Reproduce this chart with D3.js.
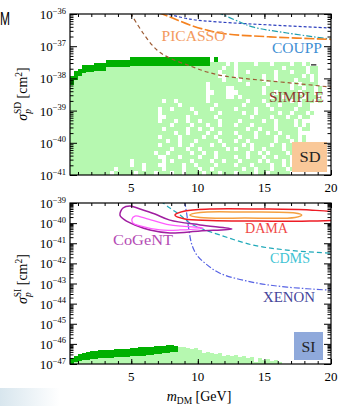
<!DOCTYPE html>
<html>
<head>
<meta charset="utf-8">
<script src="https://cdn.jsdelivr.net/npm/d3@7"></script>
<style>
body { margin: 0; background: #fff; }
svg text { font-family: "Liberation Serif", "DejaVu Serif", serif; }
</style>
</head>
<body>
<div id="chart"></div>
<script>
// scan grid (GeV)
const cellStart = 0.4;
const cellWidth = 0.3;

// SD panel, dark green band: segments in GeV, edges in log10(sigma/cm^2)
const sdDarkFrom = [0.4, 0.7, 1.0, 1.3, 1.6, 2.2, 3.1, 4.9, 11.2];
const sdDarkTo   = [0.7, 1.0, 1.3, 1.6, 2.2, 3.1, 4.9, 10.9, 11.5];
const sdDarkTop  = [-37.93, -37.77, -37.71, -37.58, -37.58, -37.52, -37.43, -37.34, -37.34];
const sdDarkBot  = [-38.22, -38.05, -37.93, -37.83, -37.80, -37.77, -37.65, -37.62, -37.50];

// SD panel, light green scan points: rows of 1/8 decade starting at 10^-37.5, one char per cell
const sdRowTop = -37.5;
const sdRowStep = 0.125;
const sdRows = [
  "####################" + "###################." + "#.####.###.####.##.#.....",
  "####################" + "##################.#" + "#.###########.#####.##...",
  "####################" + "#################.##" + "#.##.######.###.###.##...",
  "####################" + "#################..#" + "#.######.##.######.#.#...",
  "####################" + "##################.#" + "##.#####.##.####.###.#...",
  "####################" + "##############.#####" + "####.####.#####.#.####...",
  "####################" + "##############.####." + ".#######.######.##.##.#..",
  "####################" + "##############..###." + "..######.##.#####.###.#..",
  "####################" + "##############.####." + ".#.#######.##.####.###...",
  "####################" + "###.##.#######.#####" + "####.###.######.#.###.#..",
  "####################" + "#######.########.###" + "###.#####.##.####.##.....",
  "####################" + "##.##.####.####.####" + "#.####.###.#####.###.....",
  "####################" + "##.########.#####.##" + "###.##.#####.##.###.#....",
  "####################" + "##..#####.######.###" + "#####.####.###.##.##.....",
  "####################" + "##.###.##.##.####.##" + "##.#####.##.####.#.......",
  "####################" + "#####.####.###.##.##" + "#.###.#####.####.#.#.....",
  "####################" + "###.#####.##.##.####" + "####.##.###.#####.##.....",
  "####################" + "######.##.####.##.##" + "#.####.##.##.####........",
  "####################" + "##.####.#####.##.###" + "##.###.####.##.##.#......",
  "####################" + "####.##.###.#####.##" + "#.##.######.###.#.#......",
  "####################" + "##.####.##.####.##.#" + "###.#.####.##.##.#.......",
  "####################" + "#####.###.##.######." + "#.###.##.####.##.........",
  "####################" + "#.##.#####.##.##.###" + "####.##.#.####.#.........",
  "####################" + "##..###.####.###.###" + "#.##.###.##.###..........",
  "###############.####" + "###.#.####.####.##.#" + "##.####.#.###.#..........",
  "###############.##.#" + "##..####.##.####.###" + "#.###.####.##.#..........",
  "###########.######.#" + "###.####.###.##.####" + "###.##.###.###.#.........",
  "##########.#####.###" + "#.###.##.####.###.##" + "#.####.##.#####.........."
];

// SI panel, per scan column: top of dark band and top of light band (light runs to 10^-47)
const siDarkTop = [-46.71, -46.61, -46.51, -46.46, -46.41, -46.36, -46.36, -46.31, -46.31, -46.31,
  -46.28, -46.26, -46.26, -46.23, -46.23, -46.21, -46.21, -46.18, -46.18, -46.16,
  -46.16, -46.13, -46.11, -46.11, -46.06, -46.06, -46.11];
const siLightTop = [-47.0, -46.91, -46.86, -46.81, -46.81, -46.76, -46.76, -46.71, -46.71, -46.71,
  -46.69, -46.66, -46.66, -46.66, -46.63, -46.61, -46.61, -46.58, -46.58, -46.56,
  -46.56, -46.51, -46.51, -46.46, -46.46, -46.41, -46.41,
  -46.16, -46.16, -46.21, -46.26, -46.21, -46.31, -46.46, -46.41, -46.46, -46.51,
  -46.46, -46.61, -46.56, -46.61, -46.56, -46.66, -46.61, -46.71, -46.66, -46.91,
  -46.71, -46.81, -46.76, -46.86, -46.81, -46.91];

// SD limits
const picassoX = [7.0, 7.9, 9.4, 11.66, 15.4, 20.2];
const picassoY = [-35.95, -36.09, -36.34, -36.59, -36.71, -36.79];
const navyX = [7.5, 9.4, 11.66, 15.4, 20.2];
const navyY = [-35.97, -36.16, -36.25, -36.34, -36.44];
const couppX = [11.5, 13.16, 14.1, 16.7, 20.2];
const couppY = [-35.95, -36.25, -36.4, -36.59, -36.79];
const simpleX = [4.95, 5.88, 6.93, 7.9, 9.4, 10.69, 12.04, 13.91, 15.42, 17.67, 20.2];
const simpleY = [-35.97, -36.59, -37.12, -37.37, -37.61, -37.80, -37.93, -38.02, -38.08, -38.17, -38.28];
const markX = [18.5, 18.9];
const markY = [-37.58, -37.58];

// SI regions and limits
const cogentOutX = [4.15, 4.38, 4.9, 5.66, 6.78, 7.9, 10.16, 12.56, 10.16, 7.9, 6.4, 5.28, 4.53];
const cogentOutY = [-39.6, -39.25, -39.15, -39.3, -39.55, -39.85, -40.09, -40.29, -40.39, -40.49, -40.34, -40.09, -39.85];
const cogentInX = [5.05, 5.28, 6.03, 7.9, 10.39, 8.66, 7.16, 5.66, 5.13];
const cogentInY = [-39.8, -39.65, -39.75, -40.09, -40.24, -40.34, -40.34, -40.14, -40.0];
const damaOutX = [8.28, 9.03, 10.9, 14.66, 18.4, 20.7, 21.05, 20.7, 18.4, 14.66, 10.9, 9.03];
const damaOutY = [-39.6, -39.4, -39.3, -39.3, -39.35, -39.5, -39.65, -39.8, -39.9, -39.9, -39.87, -39.8];
const damaInX = [9.4, 10.16, 13.54, 17.3, 17.8, 17.3, 13.54, 10.16];
const damaInY = [-39.6, -39.47, -39.45, -39.5, -39.6, -39.72, -39.75, -39.72];
const cdmsX = [7.2, 7.9, 8.66, 9.4, 10.54, 11.66, 14.14, 16.7, 20.2];
const cdmsY = [-38.9, -39.25, -39.6, -40.0, -40.34, -40.59, -41.09, -41.34, -41.5];
const xenonX = [9.0, 9.18, 9.33, 9.56, 9.93, 10.54, 11.66, 14.14, 16.7, 20.2];
const xenonY = [-38.9, -39.6, -40.34, -41.09, -41.59, -41.99, -42.49, -42.94, -43.18, -43.34];

const xTicks = d3.range(1, 21);
const xLabels = [5, 10, 15, 20];

const lightGreen = "#b6f8b0";
const darkGreen = "#00b000";

const svg = d3.select("#chart").append("svg").attr("width", 339).attr("height", 406);

const x = d3.scaleLinear().domain([0.4, 20]).range([70, 331]);
const ySD = d3.scaleLinear().domain([-41, -36]).range([175, 14]);
const ySI = d3.scaleLinear().domain([-47, -39]).range([364, 203]);

const defs = svg.append("defs");
defs.append("clipPath").attr("id", "clipSD").append("rect").attr("x", 70).attr("y", 14).attr("width", 261).attr("height", 161);
defs.append("clipPath").attr("id", "clipSI").append("rect").attr("x", 70).attr("y", 203).attr("width", 261).attr("height", 161);
const fade = defs.append("linearGradient").attr("id", "fade");
fade.append("stop").attr("offset", "0").attr("stop-color", "#d8e6ee");
fade.append("stop").attr("offset", "1").attr("stop-color", "#ffffff");

// title letter left over at the page edge, and scan blur at bottom left
svg.append("text").attr("x", 0).attr("y", 25)
  .attr("textLength", 10).attr("lengthAdjust", "spacingAndGlyphs")
  .style("font-family", "Liberation Sans, sans-serif")
  .style("font-size", "18px").text("M");
svg.append("rect").attr("x", 0).attr("y", 388).attr("width", 60).attr("height", 18).attr("fill", "url(#fade)");

// pixel-snapped cell so neighbours meet without seams
function cell(g, cls, data, x0, x1, y0, y1, color) {
  g.selectAll("rect." + cls).data(data).join("rect")
    .attr("class", cls)
    .attr("x", d => Math.round(x0(d)))
    .attr("y", d => Math.round(y0(d)))
    .attr("width", d => Math.round(x1(d)) - Math.round(x0(d)))
    .attr("height", d => Math.round(y1(d)) - Math.round(y0(d)))
    .attr("shape-rendering", "crispEdges")
    .attr("fill", color);
}

// ---------- SD panel ----------
const gSD = svg.append("g").attr("clip-path", "url(#clipSD)");

let sdLight = [];
sdRows.forEach((row, r) => {
  for (let c = 0; c < row.length; c++) {
    if (row[c] !== "#") continue;
    const x0 = cellStart + c * cellWidth;
    const mid = x0 + cellWidth / 2;
    const top = sdRowTop - r * sdRowStep;
    const bot = top - sdRowStep;
    const k = sdDarkFrom.findIndex((f, i) => mid > f && mid < sdDarkTo[i]);
    if (k >= 0 && bot >= sdDarkBot[k]) continue;
    sdLight.push({ x0: x0, top: top, bot: bot });
  }
});

cell(gSD, "light", sdLight, d => x(d.x0), d => x(d.x0 + cellWidth), d => ySD(d.top), d => ySD(d.bot), lightGreen);
cell(gSD, "dark", d3.range(sdDarkFrom.length),
  i => x(sdDarkFrom[i]), i => x(sdDarkTo[i]), i => ySD(sdDarkTop[i]), i => ySD(sdDarkBot[i]), darkGreen);

function curve(g, xs, ys, y, color, dash, width, closed) {
  const line = d3.line()
    .x((d, i) => x(xs[i]))
    .y((d, i) => y(ys[i]))
    .curve(closed ? d3.curveCatmullRomClosed : d3.curveCatmullRom);
  g.append("path")
    .datum(xs)
    .attr("d", line)
    .attr("fill", "none")
    .attr("stroke", color)
    .attr("stroke-width", width)
    .attr("stroke-dasharray", dash);
}

curve(gSD, navyX, navyY, ySD, "#2d3fbe", "3,2", 1.2);
curve(gSD, couppX, couppY, ySD, "#1f9fae", "6,2,1.5,2", 1.2);
curve(gSD, picassoX, picassoY, ySD, "#f5821f", "10,2.5", 1.6);
curve(gSD, simpleX, simpleY, ySD, "#9c5a33", "4,3", 1.2);
curve(gSD, markX, markY, ySD, "#111", null, 1.2);

function label(txt, cx, by, color, len, size) {
  svg.append("text")
    .attr("x", cx).attr("y", by)
    .attr("text-anchor", "middle")
    .attr("fill", color)
    .attr("textLength", len)
    .attr("lengthAdjust", "spacingAndGlyphs")
    .style("font-size", (size || 14) + "px")
    .text(txt);
}

label("PICASSO", 193.5, 41, "#f39a5e", 64);
label("COUPP", 297, 52.5, "#3f8fd4", 50);
label("SIMPLE", 296.5, 101.5, "#8c3b2e", 55);

svg.append("rect").attr("x", 292).attr("y", 142).attr("width", 35).attr("height", 30).attr("fill", "#f9c899");
label("SD", 310, 162, "#222", 21, 14);

// ---------- SI panel ----------
const gSI = svg.append("g").attr("clip-path", "url(#clipSI)");
const colX = i => x(cellStart + i * cellWidth);

cell(gSI, "light", d3.range(siLightTop.length),
  i => colX(i), i => colX(i + 1), i => ySI(siLightTop[i]), i => ySI(-47), lightGreen);
cell(gSI, "dark", d3.range(siDarkTop.length),
  i => colX(i), i => colX(i + 1), i => ySI(siDarkTop[i]), i => ySI(siLightTop[i]), darkGreen);

curve(gSI, cdmsX, cdmsY, ySI, "#1fa9b9", "5,3", 1.2);
curve(gSI, xenonX, xenonY, ySI, "#5561e4", "6,2,1.5,2", 1.2);
curve(gSI, damaOutX, damaOutY, ySI, "#ee1c25", null, 1.5, true);
curve(gSI, damaInX, damaInY, ySI, "#f5a040", null, 1.5, true);
curve(gSI, cogentOutX, cogentOutY, ySI, "#a01ea0", null, 1.5, true);
curve(gSI, cogentInX, cogentInY, ySI, "#ff5cff", null, 1.3, true);

label("CoGeNT", 143, 245, "#b44bb4", 60);
label("DAMA", 266.5, 232.5, "#f04848", 43);
label("CDMS", 290, 262.5, "#41c4d4", 40);
label("XENON", 289, 301.5, "#45459a", 52);

svg.append("rect").attr("x", 294).attr("y", 332).attr("width", 29).attr("height", 28).attr("fill", "#8fa9db");
label("SI", 308.5, 351.5, "#222", 14, 14);

// ---------- frames, ticks, tick labels ----------
function panel(y, top, bottom, lo, hi) {
  const major = d3.range(lo, hi + 1);
  const minor = [];
  for (let n = lo; n < hi; n++) for (let k = 2; k < 10; k++) minor.push(n + Math.log10(k));
  const noDomain = g => g.select(".domain").remove();

  svg.append("g").attr("transform", "translate(70,0)")
    .call(d3.axisLeft(y).tickValues(minor).tickSize(-3.5).tickFormat("")).call(noDomain);
  svg.append("g").attr("transform", "translate(70,0)")
    .call(d3.axisLeft(y).tickValues(major).tickSize(-7).tickFormat("")).call(noDomain);
  svg.append("g").attr("transform", "translate(331,0)")
    .call(d3.axisRight(y).tickValues(minor).tickSize(-3.5).tickFormat("")).call(noDomain);
  svg.append("g").attr("transform", "translate(331,0)")
    .call(d3.axisRight(y).tickValues(major).tickSize(-7).tickFormat("")).call(noDomain);

  svg.append("g").attr("transform", `translate(0,${bottom})`)
    .call(d3.axisBottom(x).tickValues(xTicks).tickSize(-3).tickFormat("")).call(noDomain);
  svg.append("g").attr("transform", `translate(0,${bottom})`)
    .call(d3.axisBottom(x).tickValues(xLabels).tickSize(-5).tickFormat("")).call(noDomain);
  svg.append("g").attr("transform", `translate(0,${top})`)
    .call(d3.axisTop(x).tickValues(xTicks).tickSize(-3).tickFormat("")).call(noDomain);
  svg.append("g").attr("transform", `translate(0,${top})`)
    .call(d3.axisTop(x).tickValues(xLabels).tickSize(-5).tickFormat("")).call(noDomain);

  svg.append("rect").attr("x", 70).attr("y", top).attr("width", 261).attr("height", bottom - top)
    .attr("fill", "none").attr("stroke", "#000").attr("stroke-width", 1.2);

  major.forEach(n => {
    const t = svg.append("text").attr("x", 66).attr("y", y(n) + 5).attr("text-anchor", "end")
      .style("font-size", "13px");
    t.append("tspan").text("10");
    t.append("tspan").attr("dy", -5.5).style("font-size", "8.5px").text("\u2212" + Math.abs(n));
  });

  xLabels.forEach(v => {
    svg.append("text").attr("x", x(v)).attr("y", bottom + 16.5).attr("text-anchor", "middle")
      .style("font-size", "13px").text(v);
  });
}

panel(ySD, 14, 175, -41, -36);
panel(ySI, 203, 364, -47, -39);

function sigmaTitle(cy, tag) {
  const t = svg.append("text")
    .attr("transform", `translate(27,${cy}) rotate(-90)`)
    .attr("text-anchor", "middle")
    .style("font-size", "14px");
  t.append("tspan").style("font-style", "italic").text("\u03c3");
  t.append("tspan").attr("dy", 3.5).style("font-style", "italic").style("font-size", "9.5px").text("p");
  t.append("tspan").attr("dx", -5).attr("dy", -10).style("font-size", "9.5px").text(tag);
  t.append("tspan").attr("dy", 6.5).text(" [cm");
  t.append("tspan").attr("dy", -5.5).style("font-size", "9.5px").text("2");
  t.append("tspan").attr("dy", 5.5).text("]");
}
sigmaTitle(94, "SD");
sigmaTitle(279, "SI");

const xt = svg.append("text").attr("x", 199).attr("y", 401).attr("text-anchor", "middle").style("font-size", "14px");
xt.append("tspan").style("font-style", "italic").text("m");
xt.append("tspan").attr("dy", 3).style("font-size", "9.5px").text("DM");
xt.append("tspan").attr("dy", -3).text(" [GeV]");
</script>
</body>
</html>
